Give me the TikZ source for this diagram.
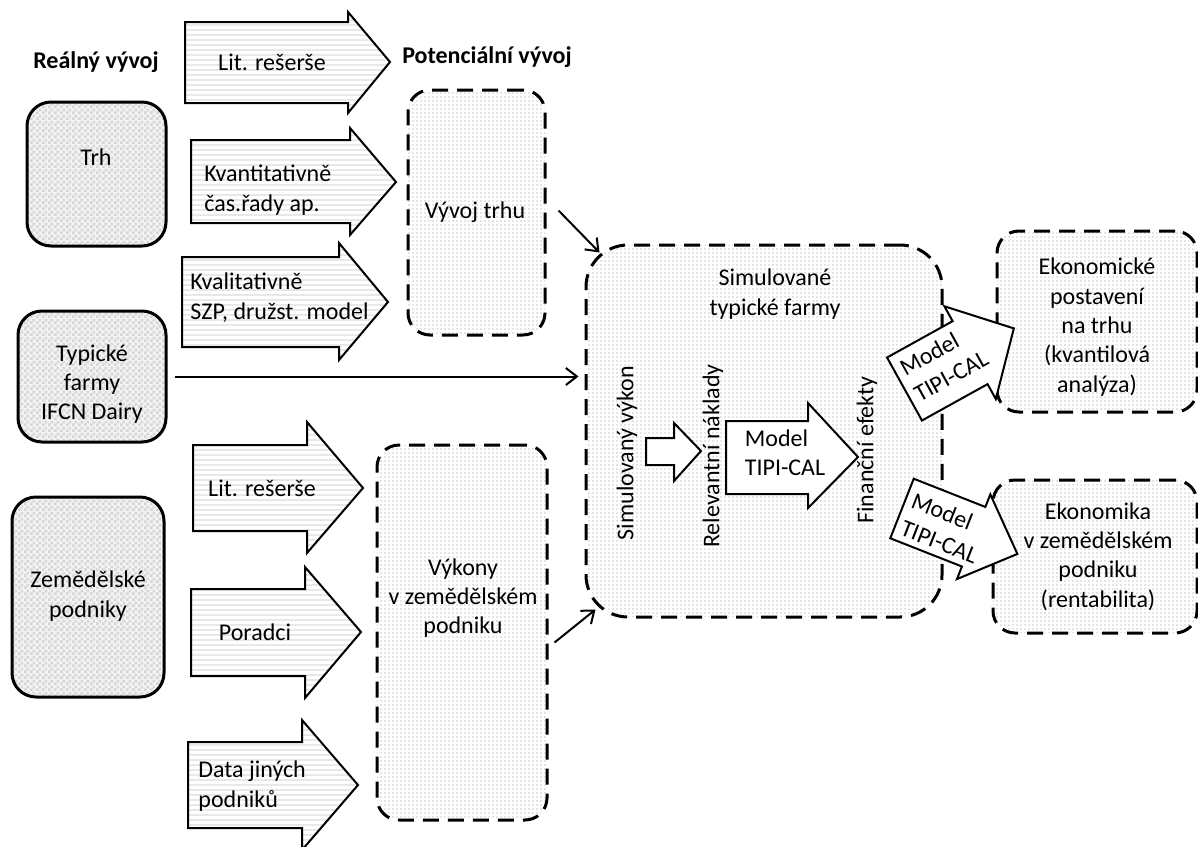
\documentclass[tikz,border=0pt]{standalone}
\usepackage{fontspec}
\setmainfont{Carlito}
\usetikzlibrary{patterns,arrows.meta}
\pgfdeclarepatternformonly{finechecker}{\pgfpointorigin}{\pgfqpoint{3pt}{3pt}}{\pgfqpoint{3pt}{3pt}}{%
  \pgfpathrectangle{\pgfpointorigin}{\pgfqpoint{1.5pt}{1.5pt}}%
  \pgfpathrectangle{\pgfqpoint{1.5pt}{1.5pt}}{\pgfqpoint{1.5pt}{1.5pt}}%
  \pgfusepath{fill}}
\pgfdeclarepatternformonly{finelines}{\pgfqpoint{-1pt}{-1pt}}{\pgfqpoint{101pt}{3.5pt}}{\pgfqpoint{100pt}{2.5pt}}{%
  \pgfsetlinewidth{1pt}%
  \pgfpathmoveto{\pgfqpoint{-1pt}{0.6pt}}%
  \pgfpathlineto{\pgfqpoint{101pt}{0.6pt}}%
  \pgfusepath{stroke}}
\pgfdeclarepatternformonly{finedots}{\pgfqpoint{-0.5pt}{-0.5pt}}{\pgfqpoint{2.5pt}{2.5pt}}{\pgfqpoint{2pt}{2pt}}{%
  \pgfpathcircle{\pgfqpoint{0.5pt}{0.5pt}}{0.4pt}%
  \pgfusepath{fill}}
\begin{document}
\begin{tikzpicture}[x=0.5pt,y=-0.5pt,
  txt/.style={font=\fontsize{12}{14.7}\selectfont, inner sep=0pt, align=center},
  hdr/.style={font=\fontsize{12}{14.7}\selectfont\bfseries, inner sep=0pt},
  solidbox/.style={draw, line width=1.5pt, rounded corners=12pt, inner sep=0pt,
    preaction={fill=gray!10}, pattern=finechecker, pattern color=gray!32},
  dashbox/.style={draw, line width=1.5pt, dash pattern=on 8pt off 4.5pt,
    rounded corners=11pt, inner sep=0pt, preaction={fill=white},
    pattern=finedots, pattern color=gray!40},
  stripearrow/.style={draw, line width=1pt, preaction={fill=white},
    pattern=finelines, pattern color=gray!18},
  whitearrow/.style={draw, line width=1pt, fill=white},
  conn/.style={line width=1pt, -{Straight Barb[length=5.5pt,width=8.5pt]}},
]
\useasboundingbox (0,0) rectangle (1198,846);

% solid input boxes
\node[solidbox, minimum width=69.5pt, minimum height=72pt] (trh) at (96.5,174) {};
\node[solidbox, minimum width=74pt, minimum height=65.5pt] (typ) at (92,376.5) {};
\node[solidbox, minimum width=76pt, minimum height=100pt] (zem) at (88,597) {};

% dashed boxes
\node[dashbox, minimum width=68.5pt, minimum height=122.5pt] (vyvoj) at (476.5,212.5) {};
\node[dashbox, minimum width=85pt, minimum height=187.5pt] (vykony) at (462,632.5) {};
\node[dashbox, rounded corners=21pt, minimum width=178pt, minimum height=186pt] (central) at (764,431) {};
\node[dashbox, minimum width=100pt, minimum height=90.5pt] (ekon1) at (1097,321.5) {};
\node[dashbox, minimum width=102pt, minimum height=76.5pt] (ekon2) at (1095,556.5) {};

% striped block arrows
\draw[stripearrow] (185,22) -- (348,22) -- (348,12) -- (390,62) -- (348,113) -- (348,103) -- (185,103) -- cycle;
\draw[stripearrow] (191,140) -- (350,140) -- (350,128) -- (396,182) -- (350,235) -- (350,223) -- (191,223) -- cycle;
\draw[stripearrow] (182,257) -- (339,257) -- (339,243) -- (388,302) -- (339,360) -- (339,347) -- (182,347) -- cycle;
\draw[stripearrow] (193,445) -- (307,445) -- (307,422) -- (363,488) -- (307,553) -- (307,531) -- (193,531) -- cycle;
\draw[stripearrow] (191,589) -- (305,589) -- (305,567) -- (361,632) -- (305,698) -- (305,676) -- (191,676) -- cycle;
\draw[stripearrow] (188,742) -- (302,742) -- (302,720) -- (358,785) -- (302,850) -- (302,828) -- (188,828) -- cycle;

% white block arrows inside the central box
\draw[whitearrow] (646,438) -- (674,438) -- (674,423) -- (701,451) -- (674,481) -- (674,465) -- (646,465) -- cycle;
\draw[whitearrow] (726,421) -- (808,421) -- (808,403) -- (858,457) -- (808,508) -- (808,494) -- (726,494) -- cycle;

% rotated block arrows
\begin{scope}[shift={(904.5,389)}, rotate=29]
  \draw[whitearrow] (0,-36) -- (75,-36) -- (75,-53) -- (125,0) -- (75,53) -- (75,36) -- (0,36) -- cycle;
  \node[txt, align=left, rotate=29] (mod2) at (47,-3.6) {Model\\TIPI-CAL};
\end{scope}
\begin{scope}[shift={(902,508.5)}, rotate=-21.5]
  \draw[whitearrow] (0,-32) -- (77,-32) -- (77,-45.5) -- (124,0) -- (77,45.5) -- (77,32) -- (0,32) -- cycle;
  \node[txt, align=left, rotate=-21.5] (mod3) at (47,2.4) {Model\\TIPI-CAL};
\end{scope}

% connectors
\draw[conn] ([shift={(12,-2)}]vyvoj.east) -- ([shift={(15,9)}]central.north west);
\draw[conn, shorten <=3.5pt, shorten >=3pt] (typ.east) -- (typ.east -| central.west);
\draw[conn] ([shift={(6,10)}]vykony.east) -- ([shift={(11,-9)}]central.south west);

% headers
\node[hdr] (hreal) at (96,62) {Reálný vývoj};
\node[hdr] (hpot) at (487,57) {Potenciální vývoj};

% texts
\node[txt] (ttrh) at (96,157) {Trh};
\node[txt] (ttyp) at (92,384) {Typické\\farmy\\IFCN Dairy};
\node[txt] (tzem) at (88,596) {Zemědělské\\podniky};
\node[txt] (a1) at (272,62) {Lit. rešerše};
\node[txt, align=left, anchor=west] (a2) at (204,190) {Kvantitativně\\čas.řady ap.};
\node[txt, align=left, anchor=west] (a3) at (190,297.5) {Kvalitativně\\SZP, družst. model};
\node[txt] (a4) at (262,488) {Lit. rešerše};
\node[txt] (a5) at (255,632) {Poradci};
\node[txt, align=left, anchor=west] (a6) at (198,786) {Data jiných\\podniků};
\node[txt] (tvyv) at (475,212) {Vývoj trhu};
\node[txt] (tvyk) at (463,598) {Výkony\\v zemědělském\\podniku};
\node[txt] (tcen) at (775,294) {Simulované\\typické farmy};
\node[txt, rotate=90] (r1) at (627,453) {Simulovaný výkon};
\node[txt, rotate=90] (r2) at (713,456) {Relevantní náklady};
\node[txt, rotate=90] (r3) at (867,450) {Finanční efekty};
\node[txt, align=left] (mod1) at (785,453) {Model\\TIPI-CAL};
\node[txt] (te1) at (1097,327) {Ekonomické\\postavení\\na trhu\\(kvantilová\\analýza)};
\node[txt] (te2) at (1098,556.5) {Ekonomika\\v zemědělském\\podniku\\(rentabilita)};
\end{tikzpicture}
\end{document}
